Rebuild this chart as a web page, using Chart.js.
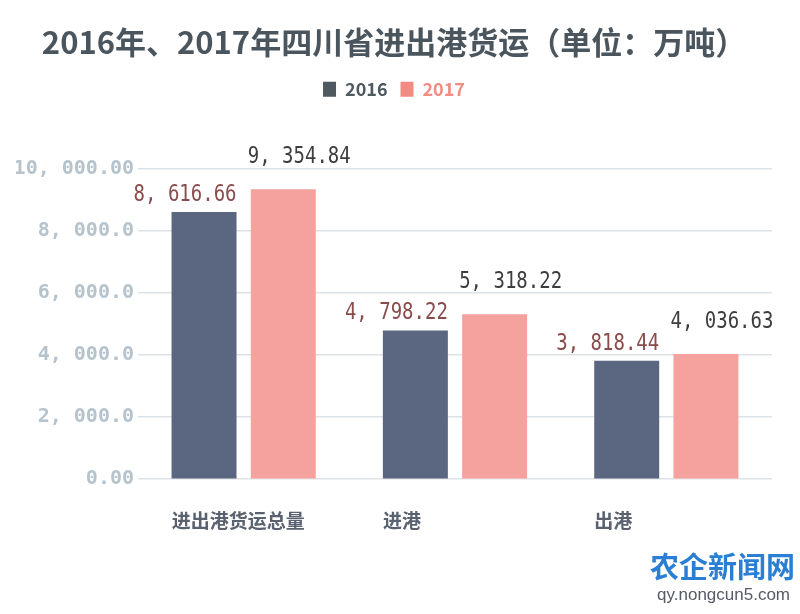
<!DOCTYPE html>
<html>
<head>
<meta charset="utf-8">
<script src="https://cdn.jsdelivr.net/npm/chart.js@4"></script>
<style>
  html, body { margin: 0; padding: 0; background: #ffffff; }
  #wrap { width: 800px; height: 614px; }
</style>
</head>
<body>
<div id="wrap"><canvas id="c" width="800" height="614"></canvas></div>
<script>
const titleText = '2016年、2017年四川省进出港货运（单位：万吨）';
const categories = ['进出港货运总量', '进港', '出港'];
const seriesNames = ['2016', '2017'];
const values2016 = [8616.66, 4798.22, 3818.44];
const values2017 = [9354.84, 5318.22, 4036.63];
const yTickValues = [0, 2000, 4000, 6000, 8000, 10000];
const yTickLabels = ['0.00', '2, 000.0', '4, 000.0', '6, 000.0', '8, 000.0', '10, 000.00'];

const barColors = ['#5b6781', '#f5a19d'];
const legendColors = ['#4e5960', '#f28b82'];
const labelColors = ['#8a4b4b', '#3d3d3d'];

function fmt(v) {
  return v.toLocaleString('en-US', {minimumFractionDigits: 2, maximumFractionDigits: 2}).replace(/,/g, ', ');
}

const legendMargin = {
  id: 'legendMargin',
  beforeInit(chart) {
    const fit = chart.legend.fit;
    chart.legend.fit = function () {
      fit.bind(chart.legend)();
      this.height += 61;
    };
  }
};

const valueLabels = {
  id: 'valueLabels',
  afterDatasetsDraw(chart) {
    const ctx = chart.ctx;
    ctx.save();
    chart.data.datasets.forEach((ds, di) => {
      const meta = chart.getDatasetMeta(di);
      meta.data.forEach((bar, i) => {
        const txt = fmt(ds.data[i]);
        ctx.fillStyle = labelColors[di];
        ctx.font = '19px "DejaVu Sans Mono", monospace';
        ctx.textBaseline = 'alphabetic';
        const half = bar.width / 2;
        let x, y;
        if (di === 0) { ctx.textAlign = 'right'; x = bar.x + half; y = bar.y - 11; }
        else { ctx.textAlign = 'left'; x = bar.x - half - 3; y = bar.y - 26; }
        ctx.save();
        ctx.translate(x, y);
        ctx.scale(1, 1.25);
        ctx.fillText(txt, 0, 0);
        ctx.restore();
      });
    });
    ctx.restore();
  }
};

const watermark = {
  id: 'watermark',
  afterDraw(chart) {
    const ctx = chart.ctx;
    ctx.save();
    ctx.textAlign = 'right';
    ctx.textBaseline = 'alphabetic';
    ctx.fillStyle = '#2a7fd4';
    ctx.font = 'bold 29px "Noto Sans CJK SC", sans-serif';
    ctx.fillText('农企新闻网', 795, 578);
    ctx.fillStyle = '#555b66';
    ctx.font = '17px "Liberation Sans", Arial, sans-serif';
    ctx.fillText('qy.nongcun5.com', 790, 600);
    ctx.restore();
  }
};

new Chart(document.getElementById('c'), {
  type: 'bar',
  data: {
    labels: categories,
    datasets: [
      { label: seriesNames[0], data: values2016, backgroundColor: barColors[0], borderWidth: 0,
        barPercentage: 0.82, categoryPercentage: 0.75 },
      { label: seriesNames[1], data: values2017, backgroundColor: barColors[1], borderWidth: 0,
        barPercentage: 0.82, categoryPercentage: 0.75 }
    ]
  },
  options: {
    responsive: false,
    animation: false,
    devicePixelRatio: 1,
    layout: { padding: { left: 16, right: 28, top: 0, bottom: 60 } },
    plugins: {
      title: {
        display: true,
        text: titleText,
        color: '#4b555d',
        font: { family: '"Noto Sans CJK SC", sans-serif', size: 31, weight: 'bold' },
        padding: { top: 24, bottom: 6 }
      },
      legend: {
        display: true,
        labels: {
          boxWidth: 13,
          boxHeight: 15,
          padding: 13,
          font: { family: '"Noto Sans CJK SC", sans-serif', size: 18, weight: 'bold' },
          generateLabels(chart) {
            return chart.data.datasets.map((ds, i) => ({
              text: ds.label,
              fillStyle: legendColors[i],
              strokeStyle: legendColors[i],
              lineWidth: 0,
              fontColor: legendColors[i],
              datasetIndex: i,
              hidden: false
            }));
          }
        }
      },
      tooltip: { enabled: false }
    },
    scales: {
      x: {
        grid: { display: false },
        border: { display: false },
        ticks: {
          align: 'start',
          labelOffset: -72,
          padding: 22,
          color: '#5a6270',
          font: { family: '"Noto Sans CJK SC", sans-serif', size: 19, weight: 'bold' }
        }
      },
      y: {
        min: 0,
        max: 10000,
        afterFit(scale) { scale.width = 122; },
        afterBuildTicks(scale) { scale.ticks = yTickValues.map(v => ({ value: v })); },
        grid: { color: '#dde2e6', lineWidth: 1.5, drawTicks: false },
        border: { display: false },
        ticks: {
          padding: 4,
          color: '#b6c3cc',
          font: { family: '"DejaVu Sans Mono", monospace', size: 20, weight: 'bold' },
          callback(v) { const i = yTickValues.indexOf(v); return i >= 0 ? yTickLabels[i] : ''; }
        }
      }
    }
  },
  plugins: [legendMargin, valueLabels, watermark]
});
</script>
</body>
</html>
